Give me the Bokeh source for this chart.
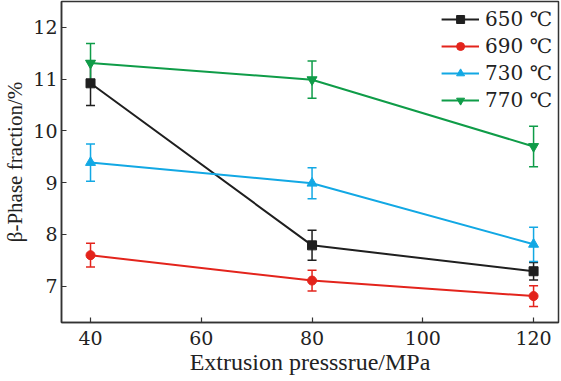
from bokeh.plotting import figure
from bokeh.models import ColumnDataSource, Whisker, TeeHead, Range1d, FixedTicker, Legend, LegendItem
from bokeh.embed import file_html
from bokeh.resources import INLINE

pressure = [40, 80, 120]
labels = ["650 ℃", "690 ℃", "730 ℃", "770 ℃"]
frac_650 = [10.92, 7.79, 7.29]
err_650 = [0.43, 0.29, 0.17]
frac_690 = [7.60, 7.11, 6.81]
err_690 = [0.23, 0.20, 0.20]
frac_730 = [9.39, 8.99, 7.81]
err_730 = [0.36, 0.30, 0.33]
frac_770 = [11.31, 10.99, 9.70]
err_770 = [0.38, 0.36, 0.39]
x_ticks = [40, 60, 80, 100, 120]
y_ticks = [7, 8, 9, 10, 11, 12]

FONT = "Liberation Serif"
NUMFONT = "DejaVu Serif"
TXT = "#222222"

p = figure(width=560, height=381, output_backend="svg", toolbar_location=None,
           x_range=Range1d(34.76, 124.5), y_range=Range1d(6.3, 12.5),
           min_border_left=61, min_border_right=2, min_border_top=1, min_border_bottom=59)
p.xgrid.visible = False
p.ygrid.visible = False
p.outline_line_color = "#333333"
p.outline_line_width = 1.5

series = [
    (frac_650, err_650, "#1f1f1f", "square", 9),
    (frac_690, err_690, "#e3241c", "circle", 9),
    (frac_730, err_730, "#12a8e4", "triangle", 10),
    (frac_770, err_770, "#0f9c48", "inverted_triangle", 10),
]

items = []
for (vals, errs, col, mk, sz), lab in zip(series, labels):
    src = ColumnDataSource(dict(x=pressure, y=vals,
                                lo=[v - e for v, e in zip(vals, errs)],
                                hi=[v + e for v, e in zip(vals, errs)]))
    w = Whisker(source=src, base="x", upper="hi", lower="lo", line_color=col, line_width=1.5,
                upper_head=TeeHead(size=9, line_color=col, line_width=1.5),
                lower_head=TeeHead(size=9, line_color=col, line_width=1.5))
    p.add_layout(w)
    r1 = p.line("x", "y", source=src, line_color=col, line_width=2)
    r2 = p.scatter("x", "y", source=src, marker=mk, size=sz, fill_color=col, line_color=col)
    items.append(LegendItem(label=lab, renderers=[r1, r2]))

leg = Legend(items=items, location="top_right")
leg.background_fill_alpha = 0
leg.border_line_alpha = 0
leg.label_text_font = NUMFONT
leg.label_text_font_size = "20px"
leg.label_text_color = TXT
leg.glyph_width = 38
leg.glyph_height = 20
leg.label_standoff = 6
leg.spacing = 3
leg.padding = 6
leg.margin = 0
leg.label_height = 20
p.add_layout(leg)

for ax in (p.xaxis[0], p.yaxis[0]):
    ax.axis_line_color = "#333333"
    ax.axis_line_width = 1.5
    ax.major_tick_in = 5
    ax.major_tick_out = 0
    ax.major_tick_line_color = "#333333"
    ax.major_tick_line_width = 1.2
    ax.minor_tick_line_color = None
    ax.major_label_text_font = NUMFONT
    ax.major_label_text_font_size = "19px"
    ax.major_label_text_color = TXT
    ax.axis_label_text_font = FONT
    ax.axis_label_text_font_style = "normal"
    ax.axis_label_text_color = TXT

p.xaxis.axis_label_text_font_size = "24px"
p.yaxis.axis_label_text_font_size = "21px"
p.xaxis.ticker = FixedTicker(ticks=x_ticks)
p.yaxis.ticker = FixedTicker(ticks=y_ticks)
p.xaxis.axis_label = "Extrusion presssrue/MPa"
p.yaxis.axis_label = "β-Phase fraction/%"
p.xaxis.major_label_standoff = 8
p.yaxis.major_label_standoff = 4
p.xaxis.axis_label_standoff = 1
p.yaxis.axis_label_standoff = 3

open("out.html", "w").write(file_html(p, INLINE))
